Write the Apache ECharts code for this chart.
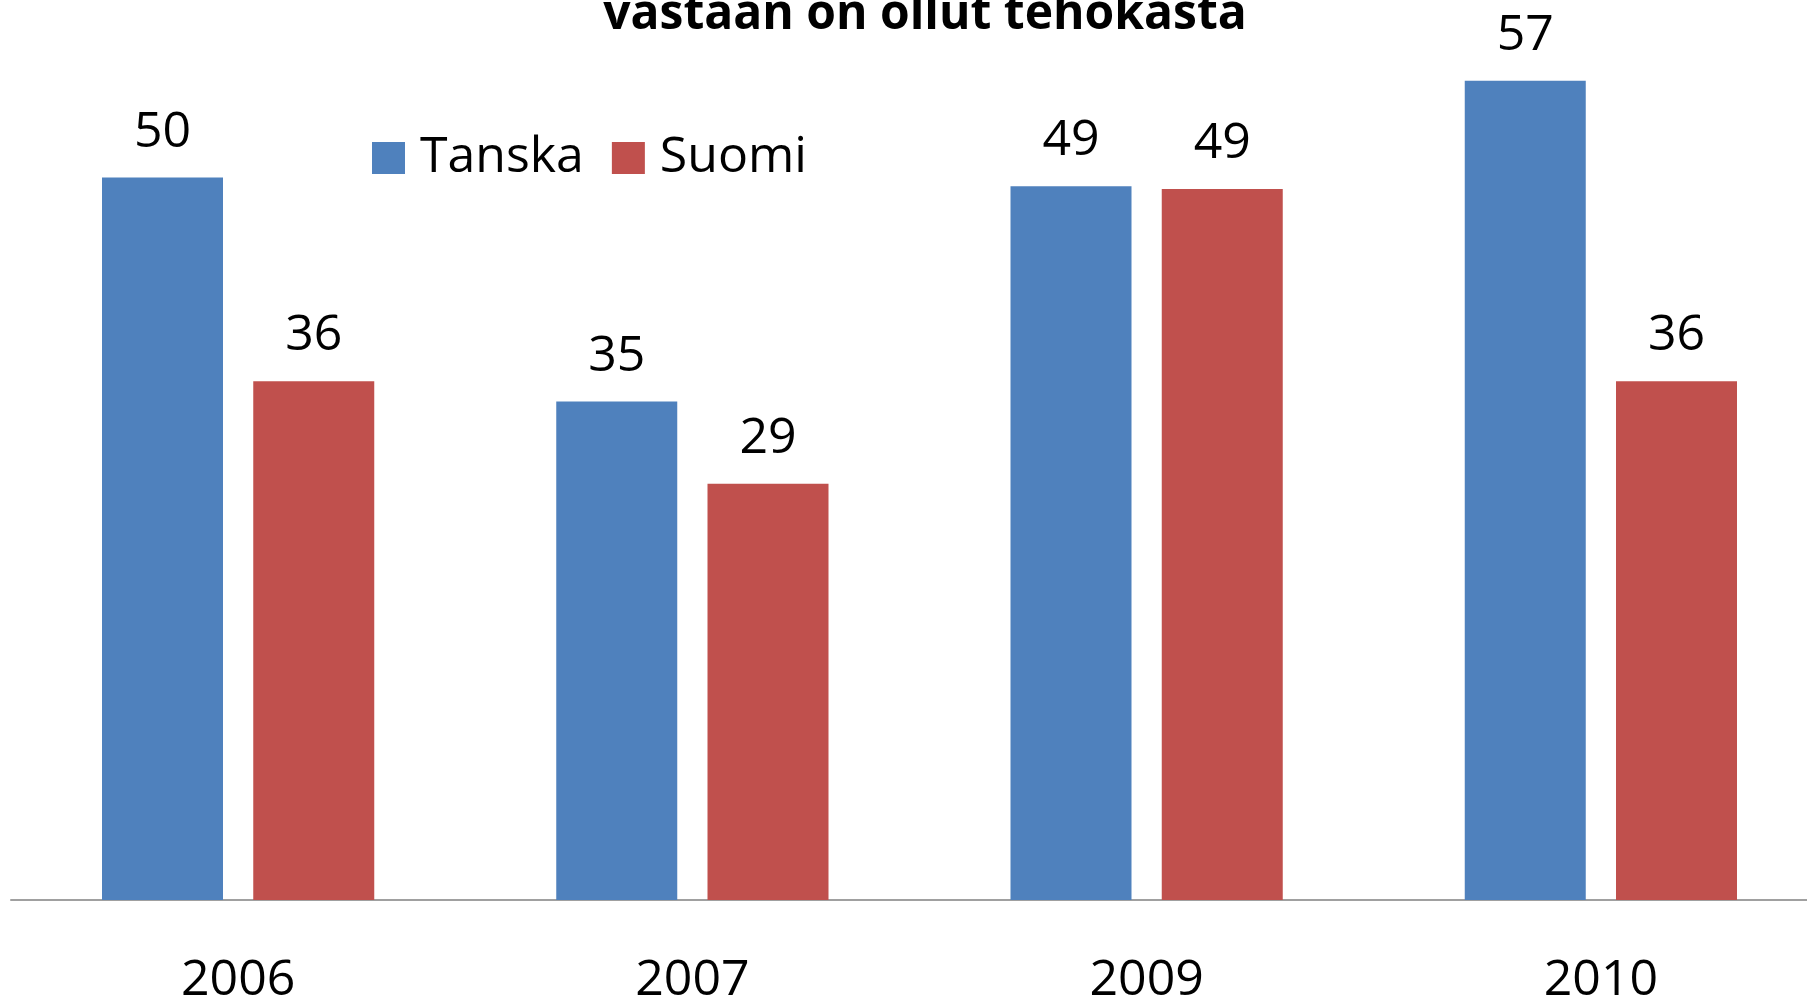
<!DOCTYPE html>
<html>
<head>
<meta charset="utf-8">
<script src="https://cdn.jsdelivr.net/npm/echarts@6/dist/echarts.min.js"></script>
<style>
	html, body { margin: 0; padding: 0; background: #fff; overflow: hidden; }
	#chart { width: 1807px; height: 999px; }
</style>
</head>
<body>
<div id="chart"></div>
<script>
// data
var years = ['2006', '2007', '2009', '2010']
var tanska = [50, 34.5, 49.4, 56.7]
var suomi = [35.9, 28.8, 49.2, 35.9]
var seriesNames = ['Tanska', 'Suomi']
var titleText = 'vastaan on ollut tehokasta'

var font = '"Open Sans", "Noto Sans", sans-serif'

function barLabel() {
	return {
		show: true,
		position: 'top',
		distance: 20,
		color: '#000',
		fontFamily: font,
		fontSize: 50,
		formatter: function(p) {
			return Math.round(p.value)
		}
	}
}

var chart = echarts.init(document.getElementById('chart'))

var option = {
	animation: false,
	backgroundColor: '#fff',
	title: {
		text: titleText,
		left: 920,
		top: -14,
		textAlign: 'center',
		textStyle: {
			fontFamily: font,
			fontWeight: 'bold',
			fontSize: 48,
			color: '#000'
		}
	},
	legend: {
		data: seriesNames,
		left: 367,
		top: 128,
		icon: 'rect',
		itemWidth: 33,
		itemHeight: 32,
		itemGap: 28,
		textStyle: {
			fontFamily: font,
			fontSize: 50,
			color: '#000',
			padding: [0, 0, 0, 10]
		}
	},
	// the plot runs a little past the right edge, as in the source
	grid: {
		left: 11,
		top: 33,
		width: 1817,
		height: 867,
		containLabel: false,
		outerBoundsMode: 'none'
	},
	xAxis: {
		type: 'category',
		data: years,
		axisLine: { show: true, lineStyle: { color: '#A0A0A0', width: 2 } },
		axisTick: { show: false },
		axisLabel: {
			margin: 56,
			color: '#000',
			fontFamily: font,
			fontSize: 50
		}
	},
	yAxis: {
		type: 'value',
		min: 0,
		max: 60,
		show: false,
		splitLine: { show: false }
	},
	series: [
		{
			name: seriesNames[0],
			type: 'bar',
			data: tanska,
			barWidth: 121,
			barGap: '25%',
			itemStyle: { color: '#4F81BD' },
			label: barLabel()
		},
		{
			name: seriesNames[1],
			type: 'bar',
			data: suomi,
			barWidth: 121,
			barGap: '25%',
			itemStyle: { color: '#C0504D' },
			label: barLabel()
		}
	]
}

chart.setOption(option)
</script>
</body>
</html>
